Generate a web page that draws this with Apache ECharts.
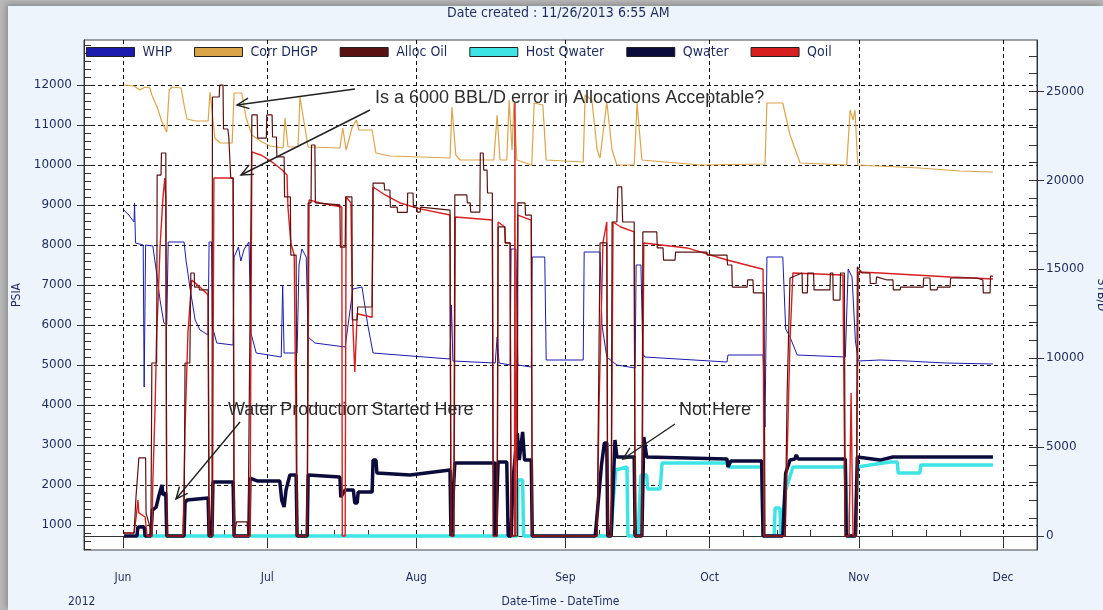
<!DOCTYPE html>
<html>
<head>
<meta charset="utf-8">
<title>Allocation check</title>
<script src="https://cdn.jsdelivr.net/npm/echarts@6/dist/echarts.min.js"></script>
<style>
html,body{margin:0;padding:0;width:1103px;height:610px;overflow:hidden;background:#b9b9b9;}
#panel{position:absolute;left:8px;top:6px;width:1095px;height:604px;background:#eef4fb;box-shadow:-2px -2px 6px #8a8a8a;}
#echart{position:absolute;left:0;top:0;width:1103px;height:610px;}
</style>
</head>
<body>
<div id="panel"></div>
<div id="echart"></div>
<script>
// day offsets are counted from 1 Jun 2012
var DAY = 86400000;
var base = new Date(2012, 5, 1).getTime();
function ts(d) { return base + d * DAY; }

var seriesNames = ['WHP', 'Corr DHGP', 'Alloc Oil', 'Host Qwater', 'Qwater', 'Qoil'];
var monthNames = ['Jan','Feb','Mar','Apr','May','Jun','Jul','Aug','Sep','Oct','Nov','Dec'];
var psiaTicks = [1000,2000,3000,4000,5000,6000,7000,8000,9000,10000,11000,12000];
var stbTicks = [0,5000,10000,15000,20000,25000];

// PSIA
var whp = [[0.2,8875],[1.2,8750],[2.3,8575],[2.4,9050],[2.6,8050],[4.2,8000],[4.4,4450],[4.7,8000],[6.2,7975],[6.9,7375],[7.7,6625],[8.5,6050],[9.1,6000],[9.4,8075],[12.7,8075],[13.1,7625],[13.9,6950],[15.0,6125],[16.0,5875],[17.7,5750],[17.9,8075],[18.4,8075],[18.6,5950],[19.5,5550],[22.9,5500],[23.1,7700],[24.0,7950],[24.5,7600],[25.2,7900],[26.2,8075],[26.6,5800],[27.7,5300],[32.9,5200],[33.2,7000],[33.5,5300],[36.2,5300],[36.6,7500],[37.2,7900],[38.1,7700],[38.5,5700],[39.9,5550],[46.2,5450],[46.8,6000],[47.8,6900],[49.7,6950],[50.9,6000],[52.0,5300],[68.0,5150],[68.3,6500],[68.6,5100],[69.0,5050],[77.4,5050],[77.8,5700],[78.2,5050],[80.5,5000],[80.7,7900],[81.7,7900],[82.1,5000],[84.9,4950],[85.1,7700],[87.7,7700],[88.0,5125],[95.7,5125],[95.9,7825],[99.2,7825],[99.6,6000],[100.6,5200],[102.7,5000],[106.5,4925],[106.7,7500],[107.7,7500],[108.1,5300],[108.5,5200],[125.6,5075],[125.8,5250],[133.1,5250],[133.5,3450],[133.9,7700],[137.2,7700],[137.8,5900],[138.7,5700],[140.2,5250],[150.2,5200],[150.8,7400],[151.6,7200],[152.3,5600],[152.9,5100],[157.4,5125],[163.1,5100],[171.0,5050],[180.9,5025]];

var corrDhgp = [[0.2,12000],[2.3,11975],[3.5,11875],[4.6,11950],[5.6,11925],[6.0,11750],[7.1,11450],[8.1,11075],[9.1,10825],[9.6,11875],[10.2,11950],[12.1,11925],[12.7,11500],[13.3,11150],[15.0,11100],[17.7,11100],[18.1,11825],[18.5,11375],[19.1,10675],[20.2,10550],[22.7,10550],[23.1,11800],[24.7,11800],[25.6,11175],[26.8,10750],[28.9,10575],[30.6,10475],[33.3,10425],[33.7,11175],[34.3,10450],[36.4,10450],[36.8,11700],[37.4,11250],[38.5,10450],[45.1,10425],[45.7,10925],[46.4,10375],[47.6,10925],[48.5,11125],[49.1,10875],[51.8,10875],[52.6,10300],[55.5,10225],[61.8,10200],[68.0,10175],[68.4,11450],[69.2,10250],[70.1,10125],[77.1,10125],[77.8,11250],[78.4,10125],[79.8,10125],[80.3,11625],[80.9,10375],[81.3,11550],[81.9,10125],[85.0,10000],[85.5,11550],[87.3,11500],[88.0,10125],[95.7,10075],[96.1,11750],[97.5,11625],[98.6,10375],[99.2,10175],[100.6,11575],[101.7,10375],[102.7,10000],[106.3,10000],[106.9,11550],[107.9,10125],[120.0,10000],[133.5,10025],[133.9,11550],[137.2,11550],[138.7,10750],[140.8,10050],[150.5,10000],[151.2,11375],[151.8,11125],[152.2,11375],[152.8,10000],[165.7,9925],[174.0,9850],[180.9,9825]];

// STB/D
var allocOil = [[0.2,170],[2.3,170],[2.7,2190],[3.3,4390],[4.7,4390],[4.8,1290],[5.6,500],[5.8,0],[6.0,9730],[7.0,9730],[7.1,20300],[7.9,20300],[8.0,21540],[8.9,21540],[9.1,0],[12.7,0],[12.9,9730],[13.9,9730],[14.1,14790],[14.8,14790],[14.9,14000],[15.8,14000],[15.9,13840],[17.7,13840],[17.9,0],[18.5,0],[18.6,24690],[20.0,24690],[20.1,25360],[20.8,25360],[20.9,22890],[21.8,22890],[22.0,22440],[22.2,22440],[22.4,20130],[22.9,20130],[23.1,0],[23.5,0],[23.6,790],[25.8,790],[26.0,0],[26.4,0],[26.8,23680],[27.9,23680],[28.0,22380],[29.8,22380],[29.9,23680],[31.0,23680],[31.1,22440],[31.9,22440],[32.0,21320],[33.5,21320],[33.6,19070],[34.8,19070],[34.9,15800],[36.0,15800],[36.2,0],[38.3,0],[38.5,18730],[39.1,18730],[39.2,21990],[39.9,21990],[40.0,18730],[45.1,18620],[45.2,16250],[46.2,16250],[46.3,19070],[47.6,19070],[47.7,12150],[48.7,12150],[48.8,12880],[51.8,12880],[52.0,19850],[54.3,19850],[54.4,19460],[55.5,19460],[55.6,18500],[57.0,18500],[57.1,18200],[59.1,18200],[59.2,19290],[60.3,19290],[60.4,18500],[61.1,18500],[61.2,18220],[61.8,18220],[61.9,18500],[68.0,18330],[68.2,0],[68.8,0],[69.0,19180],[71.5,19180],[71.6,18730],[72.2,18730],[72.3,18220],[74.2,18220],[74.3,21540],[74.9,21540],[75.0,20580],[75.7,20580],[75.8,19290],[76.8,19290],[77.0,0],[77.8,0],[78.0,17380],[79.4,17380],[79.5,16480],[80.5,16480],[80.7,0],[82.0,0],[82.1,18730],[83.6,18730],[83.7,18050],[84.9,18050],[85.1,0],[98.6,0],[99.2,16480],[100.6,16480],[100.8,0],[101.5,0],[101.7,17660],[102.7,17660],[102.9,19630],[103.7,19630],[103.9,17660],[106.3,17660],[106.5,0],[107.9,0],[108.1,17100],[111.0,17100],[111.1,16200],[112.3,16200],[112.4,15520],[114.8,15520],[114.9,15970],[121.4,15970],[121.5,15800],[125.6,15800],[125.7,15240],[126.6,15240],[126.7,14000],[129.8,14000],[129.9,14400],[131.0,14400],[131.1,13670],[133.3,13670],[133.5,0],[137.7,0],[138.1,8000],[138.7,14510],[141.2,14790],[141.3,13670],[142.3,13670],[142.4,14790],[143.6,14790],[143.7,13840],[147.0,13840],[147.1,14790],[147.6,14790],[147.7,13270],[149.1,13270],[149.2,14790],[150.0,14790],[150.2,0],[152.5,0],[152.7,15130],[153.7,14790],[155.3,14790],[155.4,14200],[156.6,14200],[156.7,14570],[158.9,14400],[160.1,14400],[160.2,13840],[161.6,13840],[161.7,14000],[166.4,14000],[166.5,14510],[167.8,14510],[167.9,13840],[169.3,13840],[169.4,14000],[172.0,14000],[172.1,14510],[177.6,14510],[177.7,14400],[178.8,14400],[178.9,13670],[180.3,13670],[180.4,14620],[180.9,14620]];

var qoil = [[0.2,170],[2.3,170],[2.7,1000],[3.1,2020],[3.3,1300],[4.6,1070],[5.0,0],[6.0,0],[6.2,3000],[6.7,7480],[7.0,11420],[7.3,13270],[7.7,16250],[8.3,19000],[8.7,20130],[8.9,18900],[9.1,0],[12.5,0],[12.9,6070],[13.5,11420],[14.3,14400],[16.0,14000],[17.7,13550],[17.9,0],[18.6,0],[18.9,20130],[22.9,20130],[23.1,0],[26.4,0],[26.8,21600],[28.9,21400],[31.0,21030],[33.1,20580],[34.1,20300],[34.3,18500],[34.9,16480],[35.6,15800],[36.0,15800],[36.2,0],[38.3,0],[38.7,18900],[41.0,18730],[45.5,18500],[45.6,0],[46.2,0],[46.4,19070],[47.4,18730],[47.7,12500],[48.2,9220],[48.7,12500],[51.8,12300],[52.0,19630],[54.5,19180],[57.6,18730],[61.8,18400],[68.0,18050],[68.2,0],[68.8,0],[69.1,17940],[76.8,17770],[77.0,0],[77.8,0],[78.0,17660],[79.4,17380],[79.5,16480],[80.5,16480],[80.7,0],[81.4,0],[81.5,24350],[81.6,0],[82.0,0],[82.1,18050],[84.9,17770],[85.1,0],[98.6,0],[99.0,7480],[99.8,16480],[100.6,17660],[100.8,0],[101.5,0],[101.9,17660],[103.5,17380],[106.3,17100],[106.5,0],[107.9,0],[108.3,16480],[117.3,16200],[125.6,15520],[133.1,15000],[133.3,0],[137.7,0],[138.7,11000],[139.3,14790],[149.7,14680],[150.2,0],[151.0,0],[151.4,8040],[151.8,0],[152.5,0],[152.9,14850],[157.4,14790],[172.0,14570],[180.9,14450]];

var qwater = [[0.2,0],[2.9,0],[3.1,510],[4.4,510],[4.6,0],[5.8,0],[6.1,1460],[6.9,1630],[7.5,2310],[8.1,2870],[8.3,2310],[8.9,2420],[9.1,0],[12.7,0],[12.9,1860],[13.3,2020],[17.7,2140],[17.9,0],[18.5,0],[18.7,3040],[22.9,3040],[23.1,0],[26.2,0],[26.4,3260],[27.9,3100],[32.6,3100],[33.0,2020],[33.5,1630],[33.9,2590],[34.7,3430],[36.0,3430],[36.2,0],[38.3,0],[38.5,3430],[45.1,3320],[45.3,2190],[46.2,2590],[47.9,2590],[48.2,1860],[48.7,1860],[48.9,2470],[51.8,2470],[52.0,4270],[52.6,4270],[52.8,3540],[59.7,3430],[68.0,3710],[68.2,0],[68.6,0],[69.0,4110],[77.4,4110],[77.5,0],[77.9,0],[78.0,4160],[79.8,4160],[80.1,0],[80.7,0],[81.1,3150],[82.0,5790],[82.4,4270],[83.1,5850],[83.5,4270],[84.9,4270],[85.1,0],[98.2,0],[99.5,4000],[100.1,5230],[100.6,5230],[100.8,0],[101.5,0],[101.9,2590],[102.3,5400],[102.7,4440],[106.3,4440],[106.5,0],[107.9,0],[108.3,5570],[108.9,4440],[125.6,4330],[125.8,3880],[126.4,4220],[132.8,4220],[133.1,0],[137.2,0],[137.8,3540],[138.7,4270],[139.7,4330],[140.0,4560],[140.4,4330],[150.2,4330],[150.4,0],[152.3,0],[152.7,4440],[157.4,4270],[160.1,4440],[180.9,4440]];

var hostQwater = [[2.9,0],[82.0,0],[82.1,3150],[83.1,3150],[83.3,0],[101.5,0],[101.9,1910],[102.5,3710],[104.8,3880],[105.0,0],[107.1,0],[107.7,3430],[108.9,3430],[109.1,2650],[111.7,2650],[112.1,4110],[125.8,4110],[126.0,3880],[132.8,3880],[133.1,0],[135.4,0],[135.6,1570],[136.6,1570],[136.8,0],[137.2,0],[137.8,2590],[139.3,3880],[150.2,3880],[150.4,2020],[150.8,0],[152.3,0],[152.7,3880],[155.3,3990],[159.5,4160],[161.0,4160],[161.2,3540],[165.7,3540],[165.9,3990],[180.9,3990]];

var xMin = ts(-8.11), xMax = ts(190.06);
var monthTicks = [], weekTicks = [];
for (var m = 5; m <= 11; m++) {
    monthTicks.push(new Date(2012, m, 1).getTime());
    if (m < 11) {
        [8, 15, 22].forEach(function (d) { weekTicks.push(new Date(2012, m, d).getTime()); });
    }
}
var psiaMinor = [];
for (var v = 400; v <= 13000; v += 200) psiaMinor.push(v);
var stbMinor = [];
for (var s = 0; s <= 27000; s += 1000) stbMinor.push(s);

var navy = '#1d2b5e';
var numFont = 'DejaVu Sans';
var txtFont = 'DejaVu Sans Condensed';

function toTime(arr) {
    return arr.map(function (p) { return [ts(p[0]), p[1]]; });
}
function plain(v) { return String(v); }
function line(name, arr, color, width, yIdx, z) {
    return {
        name: name, type: 'line', data: toTime(arr), yAxisIndex: yIdx, z: z,
        showSymbol: false, symbol: 'none', silent: true,
        lineStyle: { color: color, width: width },
        itemStyle: { color: color, borderColor: '#222', borderWidth: 1 }
    };
}

// arrows for the notes, in pixels of the picture
function arrow(x1, y1, x2, y2) {
    var a = Math.atan2(y2 - y1, x2 - x1), L = 13, w = 0.42;
    var p1 = [x2 - L * Math.cos(a - w), y2 - L * Math.sin(a - w)];
    var p2 = [x2 - L * Math.cos(a + w), y2 - L * Math.sin(a + w)];
    return [
        { type: 'line', shape: { x1: x1, y1: y1, x2: x2, y2: y2 }, style: { stroke: '#222', lineWidth: 1.4 }, z: 100 },
        { type: 'polyline', shape: { points: [p1, [x2, y2], p2] }, style: { stroke: '#222', lineWidth: 1.4, fill: null }, z: 100 }
    ];
}
function note(x, y, text) {
    return { type: 'text', x: x, y: y, z: 100,
        style: { text: text, font: '18px "Liberation Sans", Arial, sans-serif', fill: '#2e2e2e',
                 verticalAlign: 'middle', textVerticalAlign: 'middle' } };
}

var notes = [note(375, 98, 'Is a 6000 BBL/D error in Allocations Acceptable?'),
             note(228, 410, 'Water Production Started Here'),
             note(679, 410, 'Not Here'),
             { type: 'text', x: 68, y: 596, style: { text: '2012', font: '12px "' + txtFont + '"', fill: navy } }]
    .concat(arrow(355, 89, 237, 105))
    .concat(arrow(370, 110, 241, 175))
    .concat(arrow(240, 422, 176, 499))
    .concat(arrow(675, 424, 623, 459));

var myChart = echarts.init(document.getElementById('echart'));
var option = {
    animation: false,
    backgroundColor: 'transparent',
    title: {
        text: 'Date created : 11/26/2013 6:55 AM',
        left: 447, top: 6, padding: 0,
        textStyle: { fontFamily: txtFont, fontSize: 14, fontWeight: 'normal', color: navy }
    },
    legend: {
        left: 86, top: 45, padding: 0, icon: 'rect', itemWidth: 48, itemHeight: 9, itemGap: 22,
        data: seriesNames,
        itemStyle: { borderColor: '#222', borderWidth: 1 },
        textStyle: { fontFamily: txtFont, fontSize: 14, color: navy, padding: [0, 0, 0, 3] }
    },
    grid: {
        left: 84, right: 66, top: 40, bottom: 60, outerBoundsMode: 'none',
        show: true, backgroundColor: '#ffffff', borderColor: '#444', borderWidth: 1
    },
    xAxis: [{
        type: 'value', min: xMin, max: xMax,
        name: 'Date-Time - DateTime', nameLocation: 'middle', nameGap: 46,
        nameTextStyle: { fontFamily: txtFont, fontSize: 12, color: navy },
        axisLine: { show: true, lineStyle: { color: '#333' } },
        axisTick: { show: true, customValues: monthTicks, length: 11, lineStyle: { color: '#333' } },
        axisLabel: {
            customValues: monthTicks, margin: 22, color: navy, fontFamily: txtFont, fontSize: 12,
            formatter: function (val) { return monthNames[new Date(val).getMonth()]; }
        },
        splitLine: { show: true, lineStyle: { color: '#111', type: [4, 3], width: 1 } }
    }, {
        type: 'value', min: xMin, max: xMax, position: 'bottom',
        axisLine: { show: false },
        axisTick: { show: true, customValues: weekTicks, inside: true, length: 6, lineStyle: { color: '#333' } },
        axisLabel: { show: false },
        splitLine: { show: false }
    }],
    yAxis: [{
        type: 'value', position: 'left', min: 375, max: 13125,
        name: 'PSIA', nameLocation: 'middle', nameGap: 58,
        nameTextStyle: { fontFamily: txtFont, fontSize: 12, color: navy },
        axisLine: { show: true, lineStyle: { color: '#333' } },
        axisTick: { show: true, customValues: psiaTicks, length: 7, lineStyle: { color: '#333' } },
        axisLabel: { customValues: psiaTicks, formatter: plain, margin: 12, color: navy, fontFamily: numFont, fontSize: 12 },
        splitLine: { show: true, lineStyle: { color: '#111', type: [4, 3], width: 1 } }
    }, {
        type: 'value', position: 'right', min: -787, max: 27895,
        name: 'STB/D', nameLocation: 'middle', nameGap: 54, nameRotate: -90,
        nameTextStyle: { fontFamily: txtFont, fontSize: 12, color: navy },
        axisLine: { show: true, lineStyle: { color: '#333' } },
        axisTick: { show: true, customValues: stbTicks, length: 7, lineStyle: { color: '#333' } },
        axisLabel: { customValues: stbTicks, formatter: plain, margin: 9, color: navy, fontFamily: numFont, fontSize: 12 },
        splitLine: { show: false }
    }, {
        type: 'value', position: 'left', min: 375, max: 13125,
        axisLine: { show: false },
        axisTick: { show: true, inside: true, customValues: psiaMinor, length: 7, lineStyle: { color: '#333' } },
        axisLabel: { show: false }, splitLine: { show: false }
    }, {
        type: 'value', position: 'right', min: -787, max: 27895,
        axisLine: { show: false },
        axisTick: { show: true, inside: true, customValues: stbMinor, length: 8, lineStyle: { color: '#333' } },
        axisLabel: { show: false }, splitLine: { show: false }
    }],
    series: [
        line('Host Qwater', hostQwater, '#3ee4e4', 3.5, 1, 2),
        line('Qwater', qwater, '#0b0b3c', 3.5, 1, 3),
        line('WHP', whp, '#1b1bb0', 1, 0, 4),
        line('Corr DHGP', corrDhgp, '#dca448', 1.2, 0, 4),
        line('Qoil', qoil, '#d81f1f', 1.4, 1, 5),
        line('Alloc Oil', allocOil, '#5a1212', 1.2, 1, 6)
    ],
    graphic: notes
};
myChart.setOption(option);
window.onresize = myChart.resize;
</script>
</body>
</html>
